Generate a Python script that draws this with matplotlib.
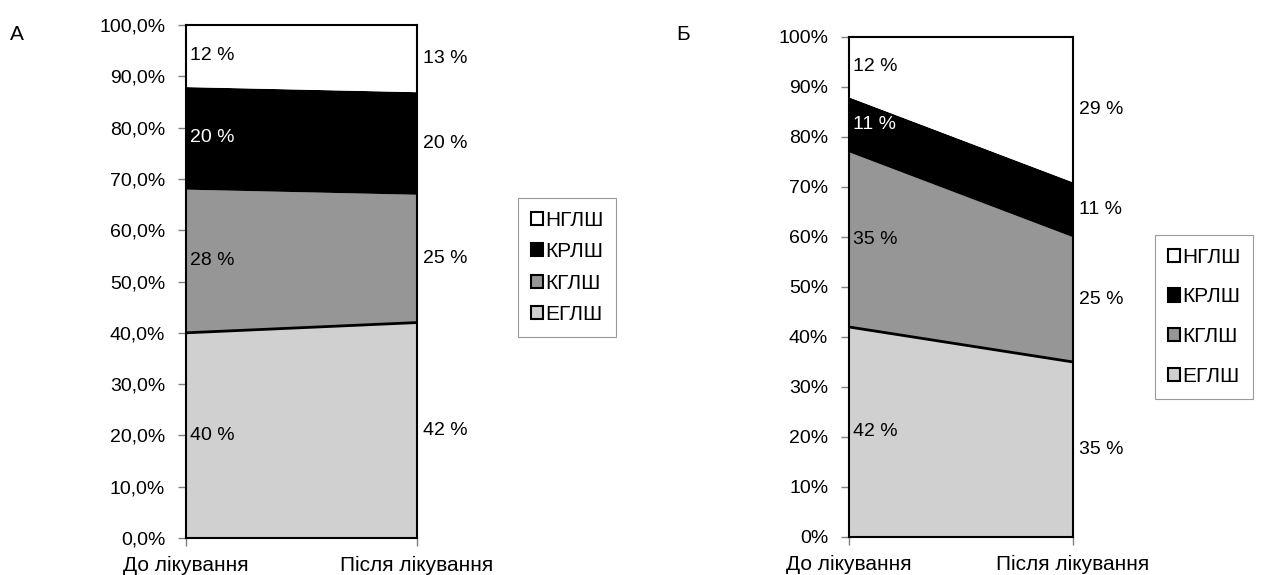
import numpy as np
import matplotlib.pyplot as plt
from matplotlib.patches import Patch
from matplotlib.ticker import FuncFormatter

plt.rcParams['font.family'] = ['Liberation Sans', 'DejaVu Sans']

# Data
categories = ['До лікування', 'Після лікування']
series = ['ЕГЛШ', 'КГЛШ', 'КРЛШ', 'НГЛШ']  # bottom to top
colors = ['#d0d0d0', '#969696', '#000000', '#ffffff']

a_before = [40, 28, 20, 12]
a_after = [42, 25, 20, 13]
b_before = [42, 35, 11, 12]
b_after = [35, 25, 11, 29]

fig = plt.figure(figsize=(12.63, 5.75), dpi=100)
axA = fig.add_axes([0.1473, 0.0643, 0.1829, 0.8922])
axB = fig.add_axes([0.6722, 0.0661, 0.1774, 0.8696])


def draw(ax, before, after, fmt):
    x = np.array([0, 1])
    vals = np.array([before, after]).T  # series x category
    tops = np.cumsum(vals, axis=0)
    bottoms = tops - vals
    for i in range(len(series)):
        ax.fill_between(x, bottoms[i], tops[i], color=colors[i], lw=0)
    # boundary line between ЕГЛШ and КГЛШ
    ax.plot(x, tops[0], color='black', lw=2)
    # value labels
    for i in range(len(series)):
        mid0 = (bottoms[i][0] + tops[i][0]) / 2
        mid1 = (bottoms[i][1] + tops[i][1]) / 2
        c = 'white' if colors[i] == '#000000' else 'black'
        ax.annotate(f'{vals[i][0]} %', (0, mid0), xytext=(3, 0), textcoords='offset points',
                    ha='left', va='center', fontsize=14, color=c)
        ax.annotate(f'{vals[i][1]} %', (1, mid1), xytext=(4, 0), textcoords='offset points',
                    ha='left', va='center', fontsize=14, color='black', annotation_clip=False)
    ax.set_xlim(0, 1)
    ax.set_ylim(0, 100)
    ax.set_yticks(np.arange(0, 101, 10))
    ax.yaxis.set_major_formatter(FuncFormatter(fmt))
    ax.set_xticks([0, 1])
    ax.set_xticklabels(categories)
    ax.tick_params(axis='both', length=6, color='#808080', width=1)
    ax.tick_params(axis='y', labelsize=14, pad=9)
    ax.tick_params(axis='x', labelsize=15, pad=7)
    for s in ax.spines.values():
        s.set_color('black')
        s.set_linewidth(1.5)


draw(axA, a_before, a_after, lambda v, p: f'{v:.1f}%'.replace('.', ','))
draw(axB, b_before, b_after, lambda v, p: f'{v:.0f}%')

handles = [Patch(facecolor=colors[i], edgecolor='black', lw=1.5, label=series[i])
           for i in range(len(series) - 1, -1, -1)]

# legend A (left panel), legend B (right panel)
for (bx, by, spacing) in [(518 / 1263, 1 - 198 / 575, 0.6),
                          (1155 / 1263, 1 - 235 / 575, 1.0)]:
    leg = fig.legend(handles=handles, loc='upper left', bbox_to_anchor=(bx, by),
                     fontsize=15, frameon=True, fancybox=False, edgecolor='#808080',
                     handlelength=0.6, handleheight=0.6, handletextpad=0.1,
                     labelspacing=spacing, borderpad=0.6, borderaxespad=0)
    leg.get_frame().set_linewidth(0.8)

fig.text(10 / 1263, 1 - 35 / 575, 'А', fontsize=15, va='center', ha='left')
fig.text(676 / 1263, 1 - 35 / 575, 'Б', fontsize=15, va='center', ha='left')

fig.savefig('out.png', dpi=100)
